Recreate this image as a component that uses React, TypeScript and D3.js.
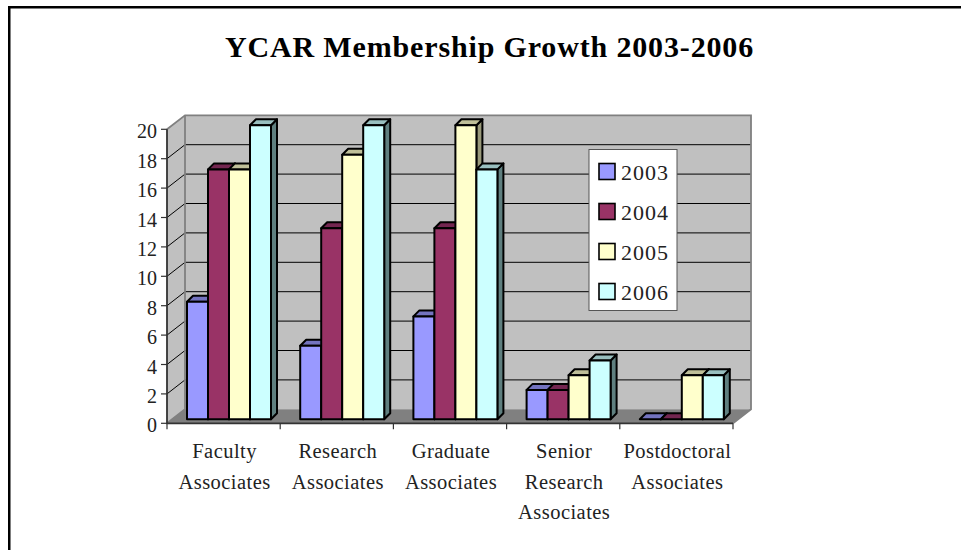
import React from "react";
import * as d3 from "d3";

const categories = [["Faculty", "Associates"], ["Research", "Associates"], ["Graduate", "Associates"], ["Senior", "Research", "Associates"], ["Postdoctoral", "Associates"]];
const categoryIds = ["Faculty", "Research", "Graduate", "Senior", "Postdoctoral"];
const seriesNames = ["2003", "2004", "2005", "2006"];
const values2003 = [8, 5, 7, 2, 0];
const values2004 = [17, 13, 13, 2, 0];
const values2005 = [17, 18, 20, 3, 3];
const values2006 = [20, 20, 17, 4, 3];
const seriesValues = [values2003, values2004, values2005, values2006];
const fronts = ["#9999FF", "#993366", "#FFFFCC", "#CCFFFF"];
const tops = ["#7373BF", "#732650", "#BFBF99", "#99BFBF"];
const sides = ["#5C5C99", "#5C1F3D", "#99997A", "#5F7F7F"];
const yTicks = d3.range(0, 21, 2);

const x = d3.scaleBand().domain(categoryIds).range([167, 733]);
const y = d3.scaleLinear().domain([0, 20]).range([423.3, 129.3]);
const WALL_DX = 18, WALL_DY = -14;
const BAR_DX = 4, BAR_DY = -4, DEPTH_DX = 6, DEPTH_DY = -6;
const barX = d3.scaleBand().domain(seriesNames).range([16, 16 + 84]);
const serif = "'Liberation Serif', serif";

const poly = (pts: number[][]) => pts.map((p) => p.join(",")).join(" ");

export default function App() {
  const x0 = x.range()[0], x1 = x.range()[1];
  const y0 = y(0), y20 = y(20);
  return (
    <svg width={961} height={550} style={{ position: "absolute", left: 0, top: 0 }}>
      <rect x={0} y={0} width={961} height={550} fill="#fff" />
      <path d="M9.25,550V7.25H961" fill="none" stroke="#000" strokeWidth={2.5} />
      <text x={489.5} y={57} textAnchor="middle" fontFamily={serif} fontWeight="bold" fontSize={30} letterSpacing={0.85} fill="#000">YCAR Membership Growth 2003-2006</text>

      {/* walls */}
      <polygon points={poly([[x0, y20], [x0 + WALL_DX, y20 + WALL_DY], [x0 + WALL_DX, y0 + WALL_DY], [x0, y0]])} fill="#C0C0C0" />
      <rect x={x0 + WALL_DX} y={y20 + WALL_DY} width={x1 - x0} height={y0 - y20} fill="#C0C0C0" />
      <polygon points={poly([[x0, y0], [x0 + WALL_DX, y0 + WALL_DY], [x1 + WALL_DX, y0 + WALL_DY], [x1, y0]])} fill="#808080" />
      {yTicks.filter((t) => t > 0 && t < 20).map((t) => (
        <path key={t} d={`M${x0},${y(t)}L${x0 + WALL_DX},${y(t) + WALL_DY}H${x1 + WALL_DX}`} fill="none" stroke="#000" strokeWidth={1} />
      ))}
      <path d={`M${x0},${y20}L${x0 + WALL_DX},${y20 + WALL_DY}H${x1 + WALL_DX}V${y0 + WALL_DY}L${x1},${y0}`} fill="none" stroke="#808080" strokeWidth={1.8} />
      <path d={`M${x0 + WALL_DX},${y20 + WALL_DY}V${y0 + WALL_DY}L${x0},${y0}`} fill="none" stroke="#808080" strokeWidth={1.8} />

      {/* bars */}
      {categoryIds.map((c, ci) => (
        <g key={c}>
          {seriesNames.map((s, si) => {
            const left = x(c)! + barX(s)! + BAR_DX;
            const right = left + barX.bandwidth();
            const base = y0 + BAR_DY;
            const top = y(seriesValues[si][ci]) + BAR_DY;
            return (
              <g key={s} stroke="#000" strokeWidth={2} strokeLinejoin="round">
                <polygon points={poly([[right, top], [right + DEPTH_DX, top + DEPTH_DY], [right + DEPTH_DX, base + DEPTH_DY], [right, base]])} fill={sides[si]} />
                <polygon points={poly([[left, top], [left + DEPTH_DX, top + DEPTH_DY], [right + DEPTH_DX, top + DEPTH_DY], [right, top]])} fill={tops[si]} />
                <rect x={left} y={top} width={right - left} height={base - top} fill={fronts[si]} />
              </g>
            );
          })}
        </g>
      ))}

      {/* axes */}
      <path d={`M${x0},${y20}V${y0}H${x1}`} fill="none" stroke="#333" strokeWidth={1.8} />
      {yTicks.map((t) => (
        <g key={t}>
          <line x1={x0 - 6} x2={x0} y1={y(t)} y2={y(t)} stroke="#333" strokeWidth={1.2} />
          <text x={x0 - 10} y={y(t) + 9} textAnchor="end" fontFamily={serif} fontSize={20} fill="#222">{t}</text>
        </g>
      ))}
      {[...categoryIds.map((c) => x(c)!), x1].map((tx) => (
        <line key={tx} x1={tx} x2={tx} y1={y0} y2={y0 + 6} stroke="#333" strokeWidth={1.2} />
      ))}
      {categoryIds.map((c, ci) => (
        <text key={c} textAnchor="middle" fontFamily={serif} fontSize={20.5} letterSpacing={0.45} fill="#222">
          {categories[ci].map((line, li) => (
            <tspan key={li} x={x(c)! + x.bandwidth() / 2 + 1} y={458 + li * 30.5}>{line}</tspan>
          ))}
        </text>
      ))}

      {/* legend */}
      <rect x={589} y={149.5} width={88} height={161} fill="#fff" stroke="#555" strokeWidth={1} />
      {seriesNames.map((s, si) => (
        <g key={s}>
          <rect x={599} y={163.5 + si * 40} width={16} height={16} fill={fronts[si]} stroke="#000" strokeWidth={1.6} />
          <text x={621} y={180 + si * 40} fontFamily={serif} fontSize={22} letterSpacing={1} fill="#222">{s}</text>
        </g>
      ))}
    </svg>
  );
}
